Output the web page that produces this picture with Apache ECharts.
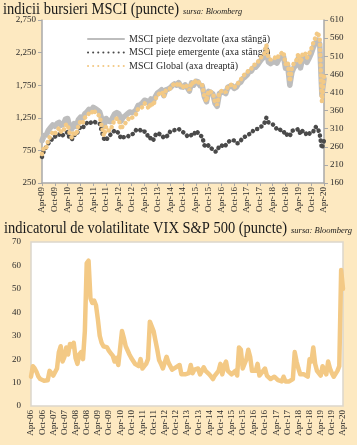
<!DOCTYPE html>
<html><head><meta charset="utf-8">
<script src="https://cdn.jsdelivr.net/npm/echarts@6/dist/echarts.min.js"></script>
<style>html,body{margin:0;padding:0;background:#fde9c1;}#c{width:357px;height:445px;}</style>
</head><body><div id="c"></div>
<script>
const monthNames = ['Jan','Feb','Mar','Apr','May','Jun','Jul','Aug','Sep','Oct','Nov','Dec'];
function monthLabels(startYear, startMonth, count) {
  const out = [];
  for (let i = 0; i < count; i++) {
    const m = (startMonth + i) % 12;
    const y = startYear + Math.floor((startMonth + i) / 12);
    out.push(monthNames[m] + '-' + String(y % 100).padStart(2, '0'));
  }
  return out;
}
// Apr-09 .. Apr-20, monthly
const msciMonths = monthLabels(2009, 3, 133);
// Apr-06 .. Apr-20, monthly
const vixMonths = monthLabels(2006, 3, 169);

const leftTicks = [250, 750, 1250, 1750, 2250, 2750];
const rightTicks = [160, 210, 260, 310, 360, 410, 460, 510, 560, 610];
const vixTicks = [0, 10, 20, 30, 40, 50, 60, 70];

// MSCI developed markets (left axis)
const developed = [
  900, 980, 985, 1060, 1100, 1140, 1120, 1160, 1180,
  1135, 1150, 1230, 1240, 1110, 1080, 1160, 1120, 1220, 1260, 1240, 1310,
  1340, 1380, 1360, 1410, 1390, 1370, 1340, 1230, 1130, 1240, 1200, 1190,
  1250, 1310, 1330, 1310, 1200, 1260, 1280, 1310, 1340, 1330, 1340, 1370,
  1440, 1450, 1480, 1520, 1510, 1470, 1540, 1500, 1570, 1630, 1650, 1680,
  1590, 1680, 1690, 1710, 1745, 1770, 1750, 1790, 1725, 1720, 1755, 1715,
  1660, 1785, 1750, 1810, 1805, 1740, 1740, 1575, 1495, 1655, 1640, 1615,
  1470, 1425, 1620, 1640, 1645, 1620, 1720, 1730, 1740, 1700, 1720, 1775,
  1795, 1850, 1875, 1905, 1955, 1965, 2020, 2025, 2065, 2115, 2155, 2180,
  2310, 2105, 2080, 2105, 2110, 2090, 2160, 2180, 2200, 2010, 2050, 1750,
  1950, 2025, 2060, 2165, 2015, 2165, 2180, 2100, 2160, 2235, 2330, 2400,
  2440, 2380, 1600, 1850
];
// MSCI emerging markets (left axis)
const emerging = [
  650, 760, 800, 860, 880, 950, 960, 980, 1000,
  960, 990, 1020, 1030, 930, 920, 990, 980, 1060, 1110, 1090, 1140,
  1170, 1150, 1180, 1200, 1180, 1170, 1160, 1040, 930, 900, 960, 990,
  1020, 1060, 1040, 1010, 930, 950, 960, 955, 990, 995, 1010, 1060,
  1080, 1060, 1030, 1040, 1010, 930, 940, 900, 980, 1020, 1000, 990,
  940, 960, 980, 1040, 1060, 1060, 1070, 1080, 1050, 1030, 1010, 970,
  960, 990, 980, 1050, 1020, 980, 960, 830, 800, 830, 790, 760,
  730, 740, 820, 830, 800, 830, 870, 900, 910, 900, 860, 860,
  900, 940, 960, 970, 1000, 1010, 1060, 1080, 1080, 1110, 1120, 1160,
  1250, 1180, 1170, 1150, 1120, 1070, 1080, 1050, 1050, 980, 1000, 970,
  1050, 1060, 1060, 1080, 1000, 1050, 1040, 980, 1000, 1040, 1040, 1110,
  1100, 1000, 780, 900
];
// MSCI Global (right axis)
const globalIdx = [
  240, 260, 258, 280, 290, 300, 295, 305, 312,
  300, 303, 320, 322, 295, 285, 303, 292, 318, 330, 325, 340,
  345, 352, 350, 362, 355, 350, 345, 315, 290, 315, 305, 305,
  320, 335, 338, 334, 308, 320, 325, 332, 342, 340, 343, 350,
  365, 365, 370, 380, 375, 365, 382, 373, 390, 403, 407, 412,
  398, 416, 418, 421, 429, 434, 430, 438, 425, 425, 432, 424,
  416, 439, 432, 443, 442, 430, 430, 400, 385, 415, 412, 408,
  383, 375, 410, 414, 415, 410, 428, 430, 432, 425, 428, 438,
  445, 455, 460, 465, 474, 476, 486, 487, 494, 503, 510, 515,
  542, 505, 500, 505, 506, 502, 515, 518, 522, 488, 495, 440,
  478, 492, 498, 517, 490, 517, 520, 505, 516, 530, 547, 562,
  577, 560, 385, 455
];
// VIX S&P 500
const vix = [
  12.5, 17, 16, 14.5, 12.5, 11.5, 11, 10.8, 11.5,
  11, 15, 14, 13, 13.5, 16, 23, 25.5, 19, 21, 25, 22,
  26.5, 25.5, 27, 20.5, 18, 22, 23, 20, 32, 61, 62, 46,
  44, 45, 43, 37, 30, 27, 25.5, 25.5, 25, 23.5, 22.5, 21.5,
  19, 20.5, 17.5, 17, 32, 29, 25.5, 25, 22, 20.5, 20.5, 18,
  17.5, 17, 20, 16, 17, 18, 20, 36, 34, 32, 28, 24,
  19.5, 18, 16, 16.5, 21, 18.5, 17, 15.5, 15, 16.5, 16, 17.5,
  13.5, 14, 13.5, 14, 14, 17.5, 14, 15.5, 15, 16, 13.5, 14,
  16.5, 15, 15, 13.5, 12.5, 11.5, 13, 13, 15, 18, 13.5, 17,
  19, 15, 15, 13.5, 13.5, 15, 13, 25, 24, 16, 16.5, 20,
  24, 21, 15, 14.5, 15, 18, 13, 12.5, 15, 16, 13, 12.5,
  11.5, 12, 12.5, 12, 11, 10.5, 10.5, 12.5, 10.5, 10, 10.5, 10.5,
  11.5, 23, 19, 16, 13.5, 14, 13.5, 13, 12.5, 20, 19, 25,
  18, 15, 14.5, 13, 17, 15, 13.5, 19, 16, 14, 12.5, 13,
  15, 17, 58, 50
];

const SERIF = '"Liberation Serif", "DejaVu Serif", serif';
const txt = '#2b2b2b';
const axisGrey = '#a9a9a9';
const cGrey = '#bdbdbd', cDark = '#4a4a4a', cOrange = '#f3c985';

// fit a text to a given width (reference typeface is narrower)
const mctx = document.createElement('canvas').getContext('2d');
function fitText(text, font, x, y, targetW) {
  mctx.font = font;
  const w = mctx.measureText(text).width;
  return {type: 'text', x: x, y: y, scaleX: targetW / w, scaleY: 1,
          style: {text: text, font: font, fill: '#1a1a1a', textVerticalAlign: 'middle'}};
}
const tFont = '17px ' + SERIF;
const sFont = 'italic 8px ' + SERIF;

const chart = echarts.init(document.getElementById('c'), null, {renderer: 'canvas'});
const fmt = v => v.toLocaleString('en-US');

chart.setOption({
  backgroundColor: '#fde9c1',
  animation: false,
  graphic: [
    fitText('indicii bursieri MSCI (puncte)', tFont, 3, 10, 176),
    fitText('sursa: Bloomberg', sFont, 183, 12, 59),
    fitText('indicatorul de volatilitate VIX S&P 500 (puncte)', tFont, 4, 229, 283),
    fitText('sursa: Bloomberg', sFont, 291, 231, 61)
  ],
  legend: {
    orient: 'vertical', left: 82, top: 29, itemWidth: 36, itemHeight: 8, itemGap: 3.5,
    itemStyle: {opacity: 0},
    textStyle: {fontFamily: SERIF, fontSize: 10, color: txt},
    data: ['MSCI piețe dezvoltate (axa stângă)', 'MSCI piețe emergente (axa stângă)', 'MSCI Global (axa dreaptă)']
  },
  grid: [
    {left: 42, right: 33, top: 20, height: 163, show: true, backgroundColor: '#ffffff', borderWidth: 0},
    {left: 31, right: 14, top: 242, height: 164, show: true, backgroundColor: '#ffffff', borderColor: '#dcd6cc', borderWidth: 1.5}
  ],
  xAxis: [
    {type: 'category', gridIndex: 0, data: msciMonths, boundaryGap: false,
     axisLine: {lineStyle: {color: axisGrey, width: 1.5}},
     axisTick: {interval: 5, length: 3, lineStyle: {color: axisGrey}},
     axisLabel: {interval: 5, rotate: 90, fontFamily: SERIF, fontSize: 9, color: txt, margin: 4}},
    {type: 'category', gridIndex: 1, data: vixMonths, boundaryGap: false,
     axisLine: {show: false}, axisTick: {show: false},
     axisLabel: {interval: 5, rotate: 90, fontFamily: SERIF, fontSize: 9, color: txt, margin: 4}}
  ],
  yAxis: [
    {type: 'value', gridIndex: 0, min: leftTicks[0], max: leftTicks[leftTicks.length - 1], interval: 500,
     splitLine: {show: false},
     axisLine: {show: true, lineStyle: {color: axisGrey, width: 1.5}},
     axisTick: {show: true, length: 4, lineStyle: {color: axisGrey}},
     axisLabel: {fontFamily: SERIF, fontSize: 9, color: txt, margin: 6, formatter: fmt}},
    {type: 'value', gridIndex: 0, position: 'right', min: rightTicks[0], max: rightTicks[rightTicks.length - 1], interval: 50,
     splitLine: {show: false},
     axisLine: {show: true, lineStyle: {color: axisGrey, width: 1.5}},
     axisTick: {show: true, length: 4, lineStyle: {color: axisGrey}},
     axisLabel: {fontFamily: SERIF, fontSize: 9, color: txt, margin: 6}},
    {type: 'value', gridIndex: 1, min: vixTicks[0], max: vixTicks[vixTicks.length - 1], interval: 10,
     splitLine: {show: false}, axisLine: {show: false}, axisTick: {show: false},
     axisLabel: {fontFamily: SERIF, fontSize: 9, color: txt, margin: 10}}
  ],
  series: [
    {name: 'MSCI piețe dezvoltate (axa stângă)', type: 'line', xAxisIndex: 0, yAxisIndex: 0, data: developed,
     showSymbol: false, symbol: 'none', color: cGrey, z: 2,
     lineStyle: {color: cGrey, width: 5.5, join: 'round', cap: 'round'}},
    {name: 'MSCI piețe emergente (axa stângă)', type: 'line', xAxisIndex: 0, yAxisIndex: 0, data: emerging,
     showSymbol: false, symbol: 'none', color: cDark, z: 3,
     lineStyle: {color: cDark, width: 4.5, type: [0.1, 5], cap: 'round'}},
    {name: 'MSCI Global (axa dreaptă)', type: 'line', xAxisIndex: 0, yAxisIndex: 1, data: globalIdx,
     showSymbol: false, symbol: 'none', color: cOrange, z: 4,
     lineStyle: {color: cOrange, width: 4.5, type: [0.1, 5], cap: 'round'}},
    {name: 'VIX', type: 'line', xAxisIndex: 1, yAxisIndex: 2, data: vix,
     showSymbol: false, symbol: 'none', color: cOrange,
     lineStyle: {color: cOrange, width: 4.5, join: 'round', cap: 'round'}}
  ]
});
</script></body></html>
